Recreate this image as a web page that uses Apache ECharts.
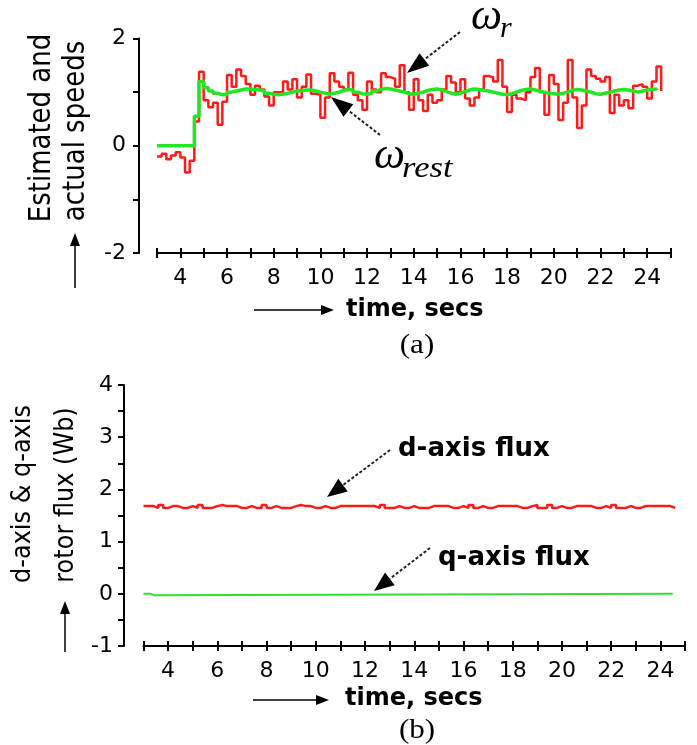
<!DOCTYPE html>
<html>
<head>
<meta charset="utf-8">
<script src="https://cdn.jsdelivr.net/npm/echarts@6/dist/echarts.min.js"></script>
<style>
  html, body { margin: 0; padding: 0; background: #ffffff; }
  #chart { width: 697px; height: 745px; }
</style>
</head>
<body>
<div id="chart"></div>
<script>
// ---- (a) speed traces, sampled every 0.2 s from t = 3.0 s ----
const speedT0 = 3.0;
const speedDt = 0.2;

// actual rotor speed, omega_r
const rotorSpeed = [
  -0.2, -0.15, -0.25, -0.18, -0.12, -0.22, -0.5, -0.28, 0.45, 1.38,
  0.85, 0.72, 0.8, 0.39, 0.82, 1.32, 1.1, 1.42, 1.3, 1.15,
  0.95, 1.12, 1.05, 0.92, 0.75, 1.0, 1.0, 1.2, 1.05, 1.24,
  0.9, 1.1, 1.33, 0.97, 0.95, 0.52, 0.9, 1.35, 1.2, 1.1,
  1.05, 1.36, 0.95, 0.85, 0.67, 1.2, 1.05, 1.0, 1.35, 1.28,
  1.25, 1.1, 1.5, 1.0, 0.67, 1.24, 0.85, 0.65, 0.95, 0.8,
  0.85, 1.05, 1.3, 1.18, 1.0, 1.24, 0.88, 0.75, 0.9, 1.05,
  1.3, 1.28, 1.2, 1.6, 1.1, 0.63, 0.95, 0.88, 0.85, 1.0,
  1.28, 1.45, 1.0, 0.58, 1.32, 1.15, 0.48, 0.8, 1.6, 0.9,
  0.33, 0.75, 1.42, 1.3, 1.25, 1.2, 1.28, 0.61, 0.95, 0.75,
  0.85, 0.7, 1.12, 1.15, 1.1, 0.88, 1.2, 1.48, 1.02
];

// estimated rotor speed, omega_rest
const estSpeed = [
  0, 0, 0, 0, 0, 0, 0, 0, 0.55, 1.2,
  1.08, 1.02, 0.98, 0.95, 0.96, 1.0, 1.02, 1.04, 1.06, 1.06,
  1.05, 1.04, 1.02, 0.98, 0.96, 0.95, 0.96, 0.98, 1.0, 1.02,
  1.03, 1.04, 1.04, 1.02, 1.0, 0.98, 0.96, 0.98, 1.0, 1.03,
  1.05, 1.04, 1.0, 0.97, 0.96, 0.98, 1.02, 1.05, 1.07, 1.06,
  1.04, 1.02, 1.0, 0.97, 0.96, 0.98, 1.0, 1.03, 1.05, 1.06,
  1.04, 1.01, 0.98, 0.96, 0.98, 1.01, 1.04, 1.06, 1.05, 1.03,
  1.02, 1.0, 0.98, 0.96, 0.95, 0.97, 1.0, 1.03, 1.05, 1.06,
  1.04, 1.02, 1.0, 0.98, 0.97, 0.96, 0.98, 1.0, 1.03, 1.05,
  1.04, 1.02, 1.0, 0.97, 0.96, 0.98, 1.0, 1.02, 1.04, 1.05,
  1.04, 1.02, 1.0, 1.02, 1.04, 1.05, 1.06, 1.04
];

// ---- (b) rotor flux components ----
const fluxT0 = 3.0;
const fluxDt = 0.2;
const dFlux = [
  1.68, 1.68, 1.645, 1.70, 1.645, 1.68, 1.68, 1.645, 1.645, 1.68,
  1.645, 1.70, 1.645, 1.645, 1.68, 1.70, 1.68, 1.68, 1.68, 1.645,
  1.645, 1.68, 1.645, 1.645, 1.70, 1.645, 1.68, 1.645, 1.645, 1.645,
  1.68, 1.70, 1.68, 1.68, 1.645, 1.645, 1.68, 1.645, 1.645, 1.68,
  1.68, 1.68, 1.68, 1.68, 1.68, 1.68, 1.68, 1.645, 1.70, 1.645,
  1.645, 1.68, 1.645, 1.645, 1.68, 1.645, 1.645, 1.645, 1.68, 1.68,
  1.68, 1.68, 1.645, 1.645, 1.68, 1.645, 1.70, 1.645, 1.68, 1.645,
  1.645, 1.68, 1.68, 1.68, 1.68, 1.68, 1.645, 1.645, 1.68, 1.70,
  1.645, 1.645, 1.70, 1.645, 1.68, 1.645, 1.645, 1.68, 1.68, 1.68,
  1.68, 1.645, 1.645, 1.68, 1.645, 1.70, 1.645, 1.645, 1.68, 1.645,
  1.645, 1.68, 1.68, 1.68, 1.68, 1.68, 1.68, 1.645, 1.645
];
// q-axis flux: flat at zero apart from a brief dip right after start
const qFluxTimes = [3.0, 3.3, 3.3, 3.45, 3.45, 24.5];
const qFlux = [0, 0, -0.03, -0.03, 0, 0];

// ---- axis ranges and tick labels ----
const timeRange = [3, 25];
const timeTickLabels = [4, 6, 8, 10, 12, 14, 16, 18, 20, 22, 24];
const speedRange = [-2, 2];
const speedTickLabels = [-2, 0, 2];
const fluxRange = [-1, 4];
const fluxTickLabels = [-1, 0, 1, 2, 3, 4];

const sampled = (t0, dt, vals) => vals.map((v, i) => [+(t0 + i * dt).toFixed(2), v]);
const paired = (ts, vals) => ts.map((t, i) => [t, vals[i]]);

const SANS = '"DejaVu Sans", "Liberation Sans", sans-serif';
const SERIF = '"Liberation Serif", "DejaVu Serif", serif';

// time axis drawn twice per panel: once with outward ticks + line + labels,
// once with inward ticks only, so the ticks cross the axis line
function timeAxis(gridIndex, ticksInside) {
  return {
    type: 'value', gridIndex, position: 'bottom',
    min: timeRange[0], max: timeRange[1], interval: 1,
    axisLine: { show: !ticksInside, onZero: false, lineStyle: { color: '#000', width: 2 } },
    axisTick: { show: true, inside: ticksInside, length: 5, lineStyle: { color: '#000', width: 2 } },
    axisLabel: ticksInside ? { show: false } : {
      show: true, color: '#000', fontFamily: SANS, fontSize: 22, margin: 14,
      formatter: v => (timeTickLabels.includes(v) ? String(v) : '')
    },
    splitLine: { show: false }
  };
}

function valueAxis(gridIndex, range, interval, labels, offset, margin) {
  return {
    type: 'value', gridIndex, position: 'left', offset,
    min: range[0], max: range[1], interval,
    axisLine: { show: true, onZero: false, lineStyle: { color: '#000', width: 2 } },
    axisTick: { show: true, inside: false, length: 6, lineStyle: { color: '#000', width: 2 } },
    axisLabel: {
      color: '#000', fontFamily: SANS, fontSize: 22, margin,
      formatter: v => (labels.includes(v) ? String(v) : '')
    },
    splitLine: { show: false }
  };
}

// arrow = shaft line + filled triangular head
function arrow(x1, y1, x2, y2, headLen, headHalf, dashed, width) {
  const dx = x2 - x1, dy = y2 - y1;
  const len = Math.hypot(dx, dy);
  const ux = dx / len, uy = dy / len;
  const bx = x2 - ux * headLen, by = y2 - uy * headLen;
  const nx = -uy * headHalf, ny = ux * headHalf;
  return [
    {
      type: 'line', silent: true,
      shape: { x1, y1, x2: bx, y2: by },
      style: { stroke: dashed ? '#222' : '#000', lineWidth: width, lineDash: dashed ? [3, 2] : null }
    },
    {
      type: 'polygon', silent: true,
      shape: { points: [[x2, y2], [bx + nx, by + ny], [bx - nx, by - ny]] },
      style: { fill: '#000' }
    }
  ];
}

function label(text, x, y, opts) {
  return {
    type: 'text', silent: true, x, y,
    rotation: opts.rotation || 0,
    scaleX: opts.scaleX || 1,
    scaleY: opts.scaleY || 1,
    style: {
      text, fill: '#000',
      fontFamily: opts.family || SANS,
      fontSize: opts.size,
      fontWeight: opts.weight || 'normal',
      fontStyle: opts.style || 'normal',
      align: opts.align || 'left',
      verticalAlign: 'middle'
    }
  };
}

const graphics = [
  // (a) axis titles
  label('Estimated and', 42, 128, { size: 26, align: 'center', rotation: Math.PI / 2, scaleY: 1.15 }),
  label('actual speeds', 76, 131, { size: 26, align: 'center', rotation: Math.PI / 2, scaleY: 1.15 }),
  ...arrow(75, 288, 75, 233, 13, 5, false, 1.5),
  ...arrow(254, 310, 334, 310, 13, 5, false, 1.5),
  label('time, secs', 346, 310, { size: 24, weight: 'bold' }),
  label('(a)', 417, 346, { size: 27, family: SERIF, align: 'center', scaleX: 1.15 }),
  // (a) trace annotations
  label('\u03c9', 471, 17, { size: 44, family: SERIF, style: 'italic' }),
  label('r', 500, 29, { size: 30, family: SERIF, style: 'italic' }),
  ...arrow(460, 32, 407, 73, 22, 8, true, 2),
  label('\u03c9', 374, 156, { size: 44, family: SERIF, style: 'italic' }),
  label('rest', 402, 169, { size: 30, family: SERIF, style: 'italic', scaleX: 1.15 }),
  ...arrow(380, 135, 331, 97, 22, 8, true, 2),

  // (b) axis titles
  label('d-axis & q-axis', 23, 494, { size: 24, align: 'center', rotation: Math.PI / 2, scaleY: 1.1 }),
  label('rotor flux (Wb)', 66, 495, { size: 24, align: 'center', rotation: Math.PI / 2, scaleY: 1.1 }),
  ...arrow(65, 652, 65, 601, 13, 5, false, 1.5),
  ...arrow(253, 700, 329, 700, 13, 5, false, 1.5),
  label('time, secs', 345, 699, { size: 24, weight: 'bold' }),
  label('(b)', 417, 731, { size: 27, family: SERIF, align: 'center', scaleX: 1.15 }),
  // (b) trace annotations
  label('d-axis flux', 398, 449, { size: 26, weight: 'bold' }),
  ...arrow(390, 450, 327, 497, 20, 8, true, 2),
  label('q-axis flux', 438, 558, { size: 26, weight: 'bold' }),
  ...arrow(430, 548, 374, 591, 20, 8, true, 2)
];

const chart = echarts.init(document.getElementById('chart'), null, { renderer: 'canvas' });
chart.setOption({
  animation: false,
  backgroundColor: '#ffffff',
  grid: [
    { left: 157, top: 38.5, width: 513.5, height: 214.5, containLabel: false, outerBoundsMode: 'none' },
    { left: 143.5, top: 385, width: 541.5, height: 261, containLabel: false, outerBoundsMode: 'none' }
  ],
  xAxis: [
    timeAxis(0, false),
    timeAxis(0, true),
    timeAxis(1, false),
    timeAxis(1, true)
  ],
  yAxis: [
    valueAxis(0, speedRange, 1, speedTickLabels, 18, 13),
    valueAxis(1, fluxRange, 0.5, fluxTickLabels, 19.5, 11)
  ],
  series: [
    {
      name: '\u03c9r', type: 'line', xAxisIndex: 0, yAxisIndex: 0,
      data: sampled(speedT0, speedDt, rotorSpeed), step: 'end',
      showSymbol: false, lineStyle: { color: '#ff1a1a', width: 2.5 }, z: 2
    },
    {
      name: '\u03c9rest', type: 'line', xAxisIndex: 0, yAxisIndex: 0,
      data: sampled(speedT0, speedDt, estSpeed), step: 'end',
      showSymbol: false, lineStyle: { color: '#22e622', width: 3.5 }, z: 3
    },
    {
      name: 'd-axis flux', type: 'line', xAxisIndex: 2, yAxisIndex: 1,
      data: sampled(fluxT0, fluxDt, dFlux), step: 'end',
      showSymbol: false, lineStyle: { color: '#ff1a1a', width: 2.5 }, z: 2
    },
    {
      name: 'q-axis flux', type: 'line', xAxisIndex: 2, yAxisIndex: 1,
      data: paired(qFluxTimes, qFlux),
      showSymbol: false, lineStyle: { color: '#33dd33', width: 2 }, z: 3
    }
  ],
  graphic: graphics
});
</script>
</body>
</html>
